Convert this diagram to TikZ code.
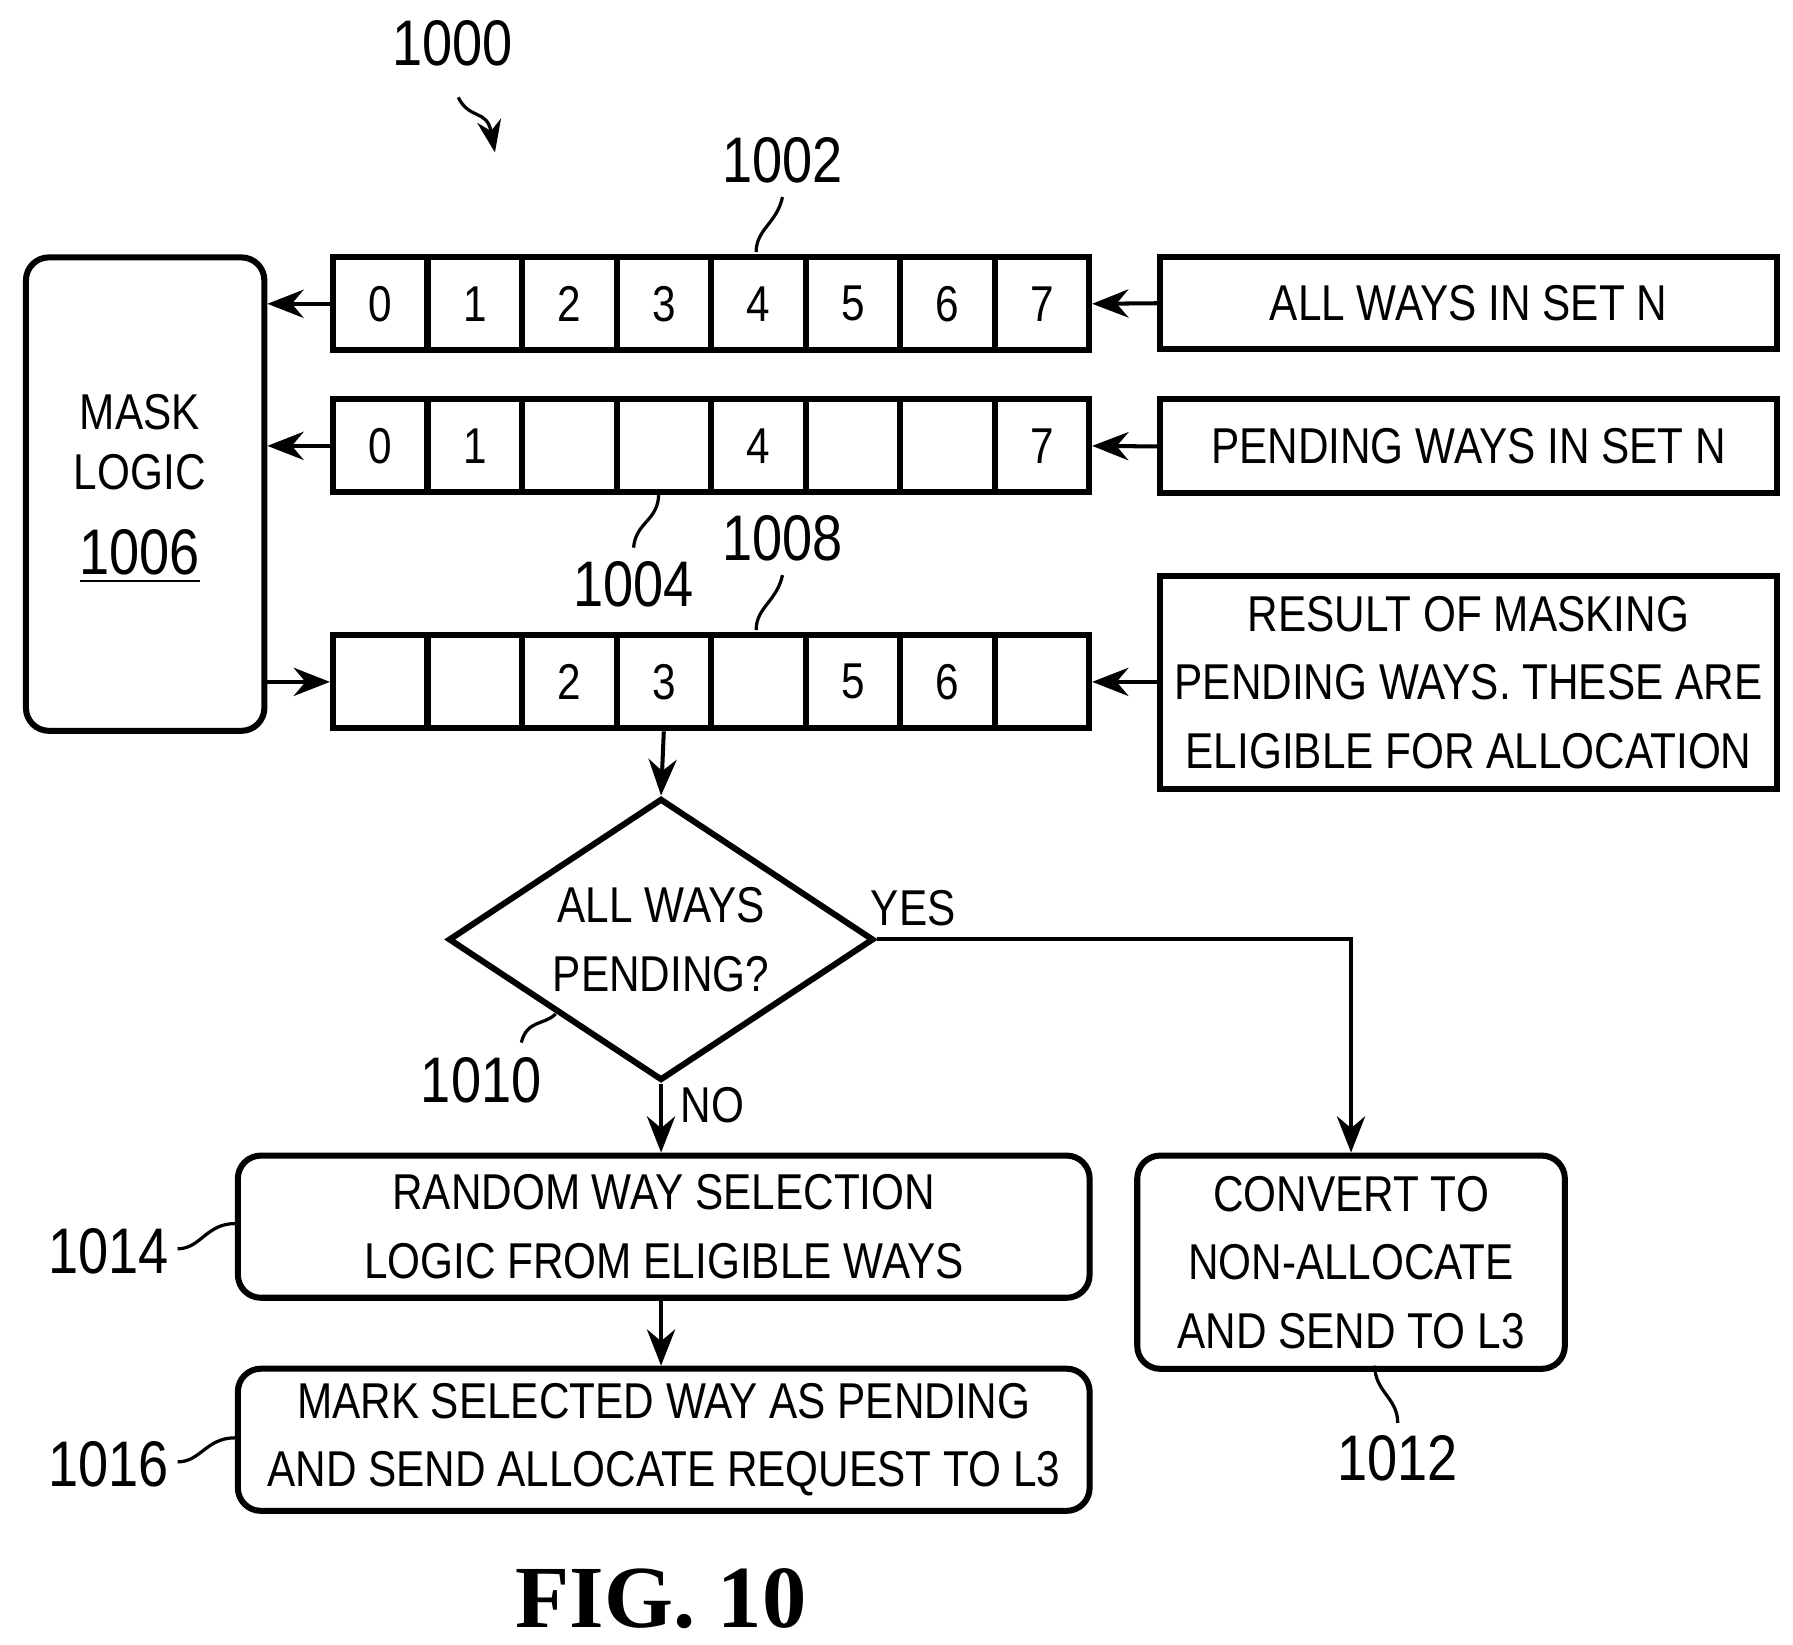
\documentclass[tikz,border=0pt]{standalone}
\usepackage{fontspec}
\setmainfont[FakeStretch=0.84]{Liberation Sans}
\newfontfamily\figfont{Liberation Serif}
\usetikzlibrary{shapes.geometric,arrows.meta}
\begin{document}
\begin{tikzpicture}[x=0.01cm,y=-0.01cm,
  every node/.style={font=\fontsize{12.5}{15}\selectfont},
  cell/.style={draw,line width=1.5pt,minimum width=0.825cm,minimum height=0.81cm,inner sep=0pt,anchor=north west},
  box/.style={draw,line width=1.5pt,inner sep=0pt,anchor=north west,align=center},
  rbox/.style={box,rounded corners=0.2cm},
  arr/.style={-{Stealth[length=9pt,width=7pt]},line width=1pt},
  lbl/.style={font=\fontsize{16}{18}\selectfont},
  sq/.style={line width=0.8pt}]
\useasboundingbox (0,0) rectangle (1565,1435);
\foreach \i/\t in {0/0,1/1,2/2,3/3,4/4,5/5,6/6,7/7}{\node[cell] (a\i) at ({288+82.5*\i},222) {\t};}
\foreach \i/\t in {0/0,1/1,2/,3/,4/4,5/,6/,7/7}{\node[cell] (b\i) at ({288+82.5*\i},346) {\t};}
\foreach \i/\t in {0/,1/,2/2,3/3,4/,5/5,6/6,7/}{\node[cell] (c\i) at ({288+82.5*\i},552) {\t};}
\node[box,minimum width=5.38cm,minimum height=0.8cm] (r1) at (1010,222) {ALL WAYS IN SET N};
\node[box,minimum width=5.38cm,minimum height=0.82cm] (r2) at (1010,346) {PENDING WAYS IN SET N};
\node[box,minimum width=5.38cm,minimum height=1.86cm,font=\fontsize{12.5}{17}\selectfont] (r3) at (1010,500) {RESULT OF MASKING\\PENDING WAYS. THESE ARE\\ELIGIBLE FOR ALLOCATION};
\node[rbox,minimum width=2.08cm,minimum height=4.13cm] (m) at (20,222) {};
\node at (122,360) {MASK};
\node at (122,412) {LOGIC};
\node[lbl] at (122,486) {\underline{1006}};
\draw[arr] (r1.west) -- (a7.east);
\draw[arr] (r2.west) -- (b7.east);
\draw[arr] (r3.west|-c7.east) -- (c7.east);
\draw[arr] (a0.west) -- (a0.west-|m.east);
\draw[arr] (b0.west) -- (b0.west-|m.east);
\draw[arr] (c0.west-|m.east) -- (c0.west);
\node[diamond,draw,line width=1.5pt,aspect=1.5,minimum width=3.71cm,minimum height=2.46cm,inner sep=0pt,align=center,font=\fontsize{12.5}{17}\selectfont] (d) at (577,820) {ALL WAYS\\PENDING?};
\draw[arr] (c3.south) -- (d.north);
\node[rbox,minimum width=3.73cm,minimum height=1.86cm,font=\fontsize{12.5}{17}\selectfont] (k) at (990,1006) {CONVERT TO\\NON-ALLOCATE\\AND SEND TO L3};
\node[rbox,minimum width=7.43cm,minimum height=1.24cm,font=\fontsize{12.5}{17}\selectfont] (s) at (205,1006) {RANDOM WAY SELECTION\\LOGIC FROM ELIGIBLE WAYS};
\node[rbox,minimum width=7.43cm,minimum height=1.24cm,font=\fontsize{12.5}{17}\selectfont] (p) at (205,1192) {MARK SELECTED WAY AS PENDING\\AND SEND ALLOCATE REQUEST TO L3};
\draw[arr] (d.east) -| (k.north);
\node at (797,793) {YES};
\draw[arr] (d.south) -- (d.south|-s.north);
\node at (622,965) {NO};
\draw[arr] (d.south|-s.south) -- (d.south|-p.north);
\node[lbl] (l1000) at (395,38) {1000};
\coordinate (t1000) at (432,133);
\draw[sq,-{Stealth[length=8pt]}] (400,85) .. controls (410,105) and (425,95) .. (t1000);
\node[lbl] (l1002) at (683,140) {1002};
\draw[sq] (683,172) .. controls (678,195) and (660,200) .. (660,220);
\node[lbl] (l1004) at (553,510) {1004};
\draw[sq] (553,478) .. controls (555,455) and (575,455) .. (575,430);
\node[lbl] (l1008) at (683,470) {1008};
\draw[sq] (683,502) .. controls (678,525) and (660,530) .. (660,550);
\node[lbl] (l1010) at (420,943) {1010};
\draw[sq] (455,910) .. controls (460,890) and (475,895) .. (485,885);
\node[lbl] (l1014) at (95,1092) {1014};
\draw[sq] (155,1090) .. controls (175,1090) and (180,1068) .. (205,1068);
\node[lbl] (l1016) at (95,1278) {1016};
\draw[sq] (155,1276) .. controls (175,1276) and (180,1255) .. (205,1255);
\node[lbl] (l1012) at (1220,1273) {1012};
\draw[sq] (1220,1242) .. controls (1220,1220) and (1200,1215) .. (1200,1192);
\node[font=\figfont\bfseries\fontsize{22}{26}\selectfont] at (577,1395) {FIG. 10};
\end{tikzpicture}
\end{document}
